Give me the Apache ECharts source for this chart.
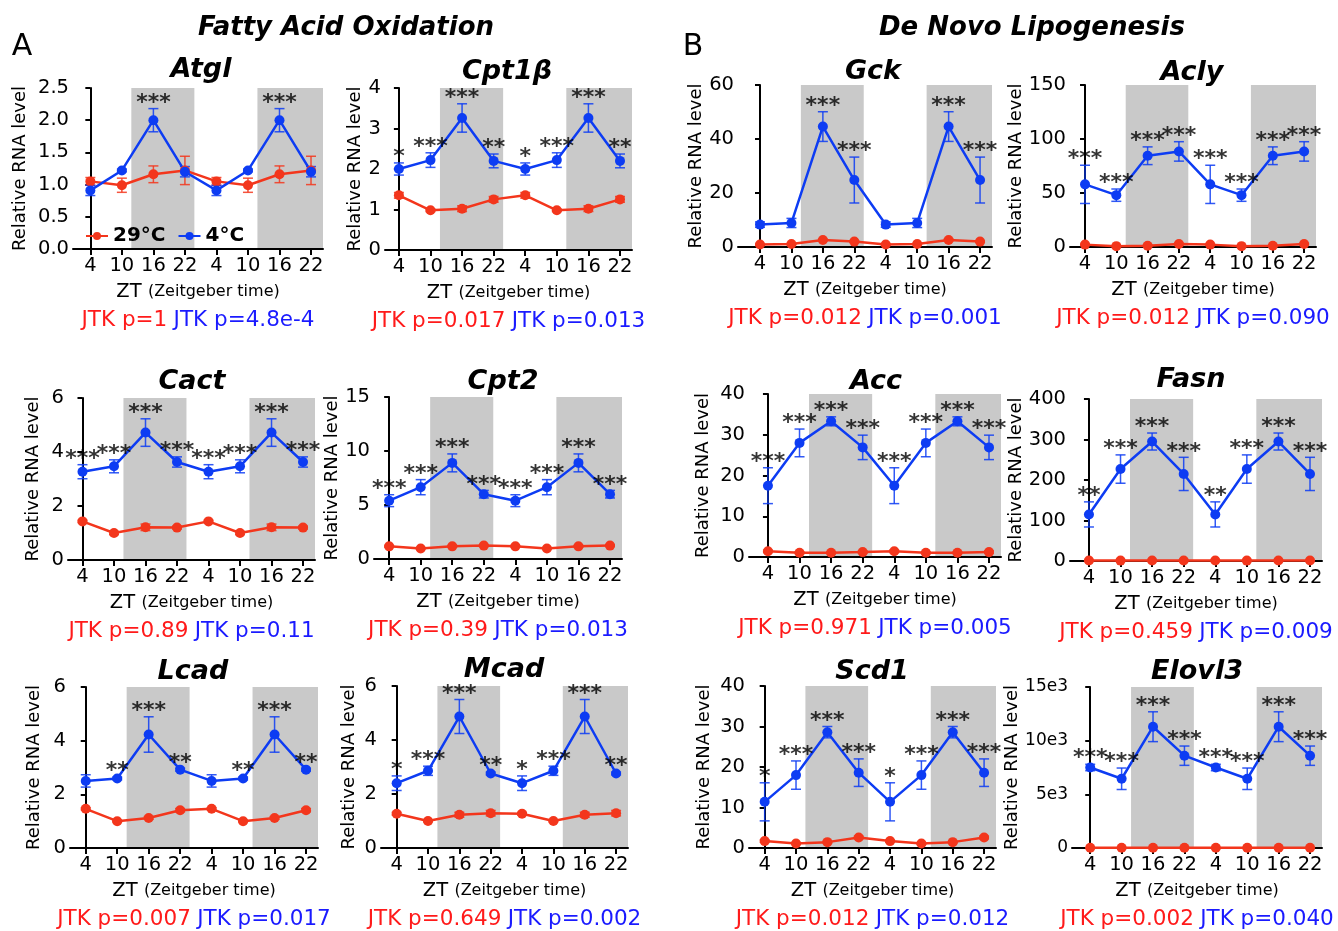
<!DOCTYPE html>
<html>
<head>
<meta charset="utf-8">
<script src="https://cdn.jsdelivr.net/npm/echarts@6/dist/echarts.min.js"></script>
<style>
html, body { margin: 0; padding: 0; background: #fff; }
#chart { width: 1338px; height: 931px; }
</style>
</head>
<body>
<div id="chart"></div>
<script>
// x tick labels (data is double-plotted over two days)
const ztLabels = ['4', '10', '16', '22', '4', '10', '16', '22']
const genes = ['Atgl', 'Cpt1β', 'Gck', 'Acly', 'Cact', 'Cpt2', 'Acc', 'Fasn', 'Lcad', 'Mcad', 'Scd1', 'Elovl3']
const yMax = [2.5, 4, 60, 150, 6, 15, 40, 400, 6, 6, 40, 15000]
const yStep = [0.5, 1, 20, 50, 2, 5, 10, 100, 2, 2, 10, 5000]

// 29°C (red), values at ZT 4, 10, 16, 22
const warmMean = [
  [1.05, 0.99, 1.16, 1.22], [1.35, 0.98, 1.02, 1.25], [0.9, 1.1, 2.6, 2.0], [2.2, 0.8, 1.2, 2.8],
  [1.43, 1.0, 1.21, 1.2], [1.17, 0.98, 1.17, 1.24], [1.4, 1.05, 1.05, 1.2], [1.2, 1.0, 1.2, 1.3],
  [1.46, 1.0, 1.12, 1.41], [1.27, 1.0, 1.23, 1.29], [1.7, 1.1, 1.45, 2.6], [30, 20, 25, 30]
]
const warmErr = [
  [0.06, 0.11, 0.13, 0.22], [0.07, 0.03, 0.07, 0.07], [0.2, 0.2, 0.3, 0.3], [0.5, 0.3, 0.4, 0.6],
  [0.04, 0.06, 0.12, 0.05], [0.08, 0.05, 0.08, 0.08], [0.3, 0.2, 0.2, 0.3], [0.3, 0.2, 0.3, 0.3],
  [0.04, 0.03, 0.05, 0.06], [0.05, 0.03, 0.09, 0.1], [0.3, 0.2, 0.2, 0.3], [5, 5, 5, 5]
]
// 4°C (blue)
const coldMean = [
  [0.91, 1.22, 2.0, 1.2], [2.0, 2.22, 3.26, 2.2], [8.3, 8.9, 44.6, 24.8], [58, 48, 84.5, 88.5],
  [3.27, 3.47, 4.72, 3.63], [5.4, 6.65, 8.9, 6.0], [17.5, 28.0, 33.3, 26.9], [115, 227, 295, 215],
  [2.5, 2.59, 4.23, 2.92], [2.4, 2.86, 4.87, 2.76], [11.4, 18.0, 28.6, 18.6], [7500, 6450, 11300, 8600]
]
const coldErr = [
  [0.08, 0.02, 0.18, 0.08], [0.15, 0.18, 0.35, 0.17], [1.0, 1.7, 5.5, 8.5], [17.7, 5.7, 8.2, 9.0],
  [0.26, 0.24, 0.51, 0.19], [0.55, 0.7, 0.83, 0.35], [4.4, 3.4, 1.1, 3.0], [31, 35, 21, 41],
  [0.23, 0.05, 0.66, 0.05], [0.27, 0.17, 0.63, 0.05], [4.7, 3.5, 1.4, 3.4], [300, 1000, 1390, 900]
]
const stars = [
  ['', '', '***', ''], ['*', '***', '***', '**'], ['', '', '***', '***'], ['***', '***', '***', '***'],
  ['***', '***', '***', '***'], ['***', '***', '***', '***'], ['***', '***', '***', '***'], ['**', '***', '***', '***'],
  ['', '**', '***', '**'], ['*', '***', '***', '**'], ['*', '***', '***', '***'], ['***', '***', '***', '***']
]
const jtkWarm = ['JTK p=1', 'JTK p=0.017', 'JTK p=0.012', 'JTK p=0.012', 'JTK p=0.89', 'JTK p=0.39',
  'JTK p=0.971', 'JTK p=0.459', 'JTK p=0.007', 'JTK p=0.649', 'JTK p=0.012', 'JTK p=0.002']
const jtkCold = ['JTK p=4.8e-4', 'JTK p=0.013', 'JTK p=0.001', 'JTK p=0.090', 'JTK p=0.11', 'JTK p=0.013',
  'JTK p=0.005', 'JTK p=0.009', 'JTK p=0.017', 'JTK p=0.002', 'JTK p=0.012', 'JTK p=0.040']

const RED = '#f3361c'
const BLUE = '#0d3cf3'
const FONT = 'DejaVu Sans'
const X_MAX = 7.38
const BANDS = [[1.3, 3.3], [5.3, X_MAX]]

// left, top, width, height, xMin, y name gap, title x, title y
const frames = [
  [73, 88, 250, 161, -0.55, 44, 201, 70],
  [385, 88, 247, 162, -0.44, 21, 507, 72],
  [738, 85, 254, 162, -0.7, 30, 873, 72],
  [1070, 85, 246, 162, -0.48, 39, 1192, 73],
  [68, 398, 247, 162, -0.46, 26, 192, 382],
  [374, 397, 248, 162, -0.48, 26, 503, 382],
  [749, 394, 252, 163, -0.6, 37, 876, 382],
  [1070, 399, 252, 162, -0.6, 40, 1191, 380],
  [70, 687, 248, 162, -0.5, 27, 193, 672],
  [381, 686, 247, 162, -0.5, 23, 504, 670],
  [749, 686, 247, 163, -0.5, 36, 872, 672],
  [1072, 687, 250, 162, -0.58, 49, 1197, 672]
]

const twice = a => a.concat(a)
const idx = [0, 1, 2, 3, 4, 5, 6, 7]

function yLabel (i, v) {
  if (i === 0) return v.toFixed(1)
  if (i === 11) return v === 0 ? '0' : (v / 1000) + 'e3'
  return String(v)
}

function errorBars (i, means, errs, color) {
  return {
    type: 'custom',
    xAxisIndex: i,
    yAxisIndex: i,
    z: 2,
    silent: true,
    encode: { x: 0, y: [1, 2] },
    data: twice(means).map((m, k) => [k, m, errs[k % 4]]),
    renderItem: function (params, api) {
      const x = api.value(0)
      const m = api.value(1)
      const e = api.value(2)
      const top = api.coord([x, m + e])
      const bot = api.coord([x, m - e])
      const st = { stroke: color, lineWidth: 1.5, opacity: 0.85 }
      return {
        type: 'group',
        children: [
          { type: 'line', shape: { x1: top[0], y1: top[1], x2: bot[0], y2: bot[1] }, style: st },
          { type: 'line', shape: { x1: top[0] - 5, y1: top[1], x2: top[0] + 5, y2: top[1] }, style: st },
          { type: 'line', shape: { x1: bot[0] - 5, y1: bot[1], x2: bot[0] + 5, y2: bot[1] }, style: st }
        ]
      }
    }
  }
}

const grids = []
const xAxes = []
const yAxes = []
const series = []
const graphics = []

frames.forEach((f, i) => {
  grids.push({ left: f[0], top: f[1], width: f[2], height: f[3] })
  xAxes.push({
    gridIndex: i,
    type: 'value',
    min: f[4],
    max: X_MAX,
    z: 1,
    axisLine: { lineStyle: { color: '#000', width: 2 } },
    axisTick: { customValues: idx, length: 6, lineStyle: { color: '#000', width: 2 } },
    axisLabel: {
      customValues: idx,
      formatter: v => ztLabels[v],
      margin: 7,
      color: '#000',
      fontFamily: FONT,
      fontSize: 19.5
    },
    splitLine: { show: false },
    name: '{zt|ZT} {zs|(Zeitgeber time)}\n{r|' + jtkWarm[i] + '} {b|' + jtkCold[i] + '}',
    nameLocation: 'middle',
    nameGap: 30,
    nameTextStyle: {
      fontFamily: FONT,
      fontSize: 20,
      color: '#000',
      rich: {
        zt: { fontFamily: FONT, fontSize: 19.5, lineHeight: 26, color: '#000' },
        zs: { fontFamily: FONT, fontSize: 16, lineHeight: 26, color: '#000' },
        r: { fontFamily: FONT, fontSize: 21.5, lineHeight: 30, color: '#ff1a1a' },
        b: { fontFamily: FONT, fontSize: 21.5, lineHeight: 30, color: '#1a1aff' }
      }
    }
  })
  yAxes.push({
    gridIndex: i,
    type: 'value',
    min: 0,
    max: yMax[i],
    interval: yStep[i],
    z: 1,
    axisLine: { show: true, lineStyle: { color: '#000', width: 2 } },
    axisTick: { show: true, length: 5, lineStyle: { color: '#000', width: 2 } },
    axisLabel: {
      formatter: v => yLabel(i, v),
      margin: 4,
      color: '#000',
      fontFamily: FONT,
      fontSize: i === 11 ? 17 : 19.5
    },
    splitLine: { show: false },
    name: 'Relative RNA level',
    nameLocation: 'middle',
    nameGap: f[5],
    nameTextStyle: { fontFamily: FONT, fontSize: 18, color: '#000' }
  })

  // dark phase shading
  series.push({
    type: 'custom',
    xAxisIndex: i,
    yAxisIndex: i,
    z: 0,
    silent: true,
    encode: { x: [0, 1] },
    data: BANDS,
    renderItem: function (params, api) {
      const p0 = api.coord([api.value(0), yMax[i]])
      const p1 = api.coord([api.value(1), 0])
      return {
        type: 'rect',
        shape: { x: p0[0], y: p0[1], width: p1[0] - p0[0], height: p1[1] - p0[1] },
        style: { fill: '#c9c9c9' }
      }
    }
  })

  series.push(errorBars(i, warmMean[i], warmErr[i], RED))
  series.push(errorBars(i, coldMean[i], coldErr[i], BLUE))

  series.push({
    name: '29°C',
    type: 'line',
    xAxisIndex: i,
    yAxisIndex: i,
    z: 3,
    data: twice(warmMean[i]).map((m, k) => [k, m]),
    symbol: 'circle',
    symbolSize: 10,
    color: RED,
    lineStyle: { width: 2.5, color: RED },
    itemStyle: { color: RED }
  })
  series.push({
    name: '4°C',
    type: 'line',
    xAxisIndex: i,
    yAxisIndex: i,
    z: 3,
    data: twice(coldMean[i]).map((m, k) => [k, m]),
    symbol: 'circle',
    symbolSize: 10,
    color: BLUE,
    lineStyle: { width: 2.5, color: BLUE },
    itemStyle: { color: BLUE }
  })

  const starText = twice(stars[i])
  series.push({
    type: 'scatter',
    xAxisIndex: i,
    yAxisIndex: i,
    z: 4,
    silent: true,
    symbolSize: 1,
    itemStyle: { color: 'transparent' },
    data: twice(coldMean[i]).map((m, k) => [k, m + coldErr[i][k % 4]]),
    label: {
      show: true,
      position: 'top',
      distance: -6,
      formatter: p => starText[p.dataIndex],
      fontFamily: FONT,
      fontWeight: 'bold',
      fontSize: 22,
      color: '#000'
    }
  })

  graphics.push({
    type: 'text',
    x: f[6],
    y: f[7],
    style: {
      text: genes[i],
      font: 'italic bold 27px "DejaVu Sans"',
      fill: '#000',
      textAlign: 'center',
      textVerticalAlign: 'middle'
    }
  })
})

graphics.push(
  { type: 'text', x: 346, y: 28, style: { text: 'Fatty Acid Oxidation', font: 'italic bold 26px "DejaVu Sans"', fill: '#000', textAlign: 'center', textVerticalAlign: 'middle' } },
  { type: 'text', x: 1032, y: 28, style: { text: 'De Novo Lipogenesis', font: 'italic bold 26px "DejaVu Sans"', fill: '#000', textAlign: 'center', textVerticalAlign: 'middle' } },
  { type: 'text', x: 22, y: 47, style: { text: 'A', font: '30px "DejaVu Sans"', fill: '#000', textAlign: 'center', textVerticalAlign: 'middle' } },
  { type: 'text', x: 693, y: 47, style: { text: 'B', font: '30px "DejaVu Sans"', fill: '#000', textAlign: 'center', textVerticalAlign: 'middle' } }
)

const chart = echarts.init(document.getElementById('chart'))
chart.setOption({
  animation: false,
  backgroundColor: '#fff',
  grid: grids,
  xAxis: xAxes,
  yAxis: yAxes,
  legend: {
    data: ['29°C', '4°C'],
    left: 80,
    top: 221,
    itemWidth: 22,
    itemHeight: 10,
    itemGap: 12,
    selectedMode: false,
    textStyle: { fontFamily: FONT, fontSize: 20, fontWeight: 'bold', color: '#000' }
  },
  graphic: graphics,
  series: series
})
</script>
</body>
</html>
